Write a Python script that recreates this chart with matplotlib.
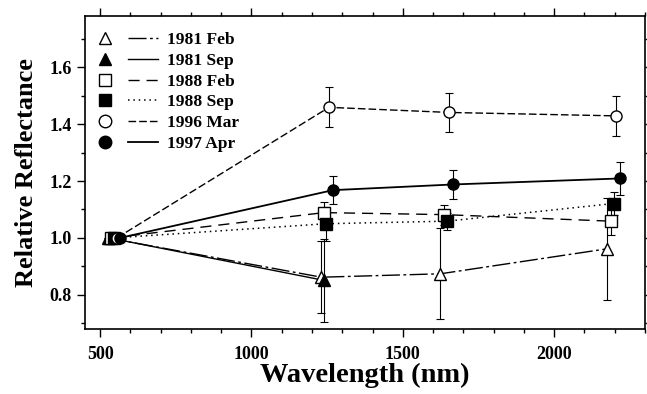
import matplotlib
matplotlib.use("Agg")
import matplotlib.pyplot as plt
from matplotlib.lines import Line2D
from matplotlib.legend_handler import HandlerTuple
from matplotlib.ticker import MultipleLocator, FormatStrFormatter

plt.rcParams['font.family'] = ['Liberation Serif', 'DejaVu Serif']
plt.rcParams['font.weight'] = 'bold'

labels = ["1981 Feb", "1981 Sep", "1988 Feb", "1988 Sep", "1996 Mar", "1997 Apr"]

x_81feb = [525, 1231, 1624, 2176]
y_81feb = [1.00, 0.862, 0.874, 0.962]
e_81feb = [0.0, 0.127, 0.160, 0.180]

x_81sep = [530, 1239]
y_81sep = [1.00, 0.851]
e_81sep = [0.0, 0.147]

x_88feb = [535, 1239, 1635, 2187]
y_88feb = [1.00, 1.089, 1.082, 1.059]
e_88feb = [0.0, 0.038, 0.035, 0.050]

x_88sep = [545, 1247, 1647, 2196]
y_88sep = [1.00, 1.050, 1.059, 1.121]
e_88sep = [0.0, 0.060, 0.030, 0.040]

x_96mar = [555, 1256, 1654, 2205]
y_96mar = [1.00, 1.459, 1.441, 1.429]
e_96mar = [0.0, 0.070, 0.070, 0.070]

x_97apr = [565, 1269, 1667, 2216]
y_97apr = [1.00, 1.168, 1.188, 1.209]
e_97apr = [0.0, 0.050, 0.050, 0.059]

xs = [x_81feb, x_81sep, x_88feb, x_88sep, x_96mar, x_97apr]
ys = [y_81feb, y_81sep, y_88feb, y_88sep, y_96mar, y_97apr]
es = [e_81feb, e_81sep, e_88feb, e_88sep, e_96mar, e_97apr]

markers = ['^', '^', 's', 's', 'o', 'o']
faces = ['white', 'black', 'white', 'black', 'white', 'black']
styles = [(0, (13, 2.5, 2, 2.5)), '-', (0, (8, 5)), (0, (1, 2.5)), (0, (5.5, 2.2)), '-']
widths = [1.0, 1.0, 1.0, 1.1, 1.0, 1.3]

W, H = 647, 394
fig = plt.figure(figsize=(W / 100, H / 100), dpi=100)
ax = fig.add_axes([85 / W, 1 - 329 / H, 560 / W, 313 / H])

handles = []
for x, y, e, m, fc, ls, lw in zip(xs, ys, es, markers, faces, styles, widths):
    ax.errorbar(x, y, yerr=e, fmt='none', ecolor='black', elinewidth=0.8,
                capsize=3, capthick=0.8, zorder=2)
    ax.plot(x, y, color='black', linestyle=ls, linewidth=lw, zorder=2)
    ax.plot(x, y, linestyle='none', marker=m, markersize=8, markerfacecolor=fc,
            markeredgecolor='black', markeredgewidth=1.0, zorder=3)
    hm = Line2D([], [], linestyle='none', marker=m, markersize=9,
                markerfacecolor=fc, markeredgecolor='black', markeredgewidth=1.0)
    hl = Line2D([], [], color='black', linestyle=ls, linewidth=lw)
    handles.append((hm, hl))

leg = ax.legend(handles, labels, handler_map={tuple: HandlerTuple(ndivide=None, pad=0.46)},
                loc='upper left', bbox_to_anchor=((90 - 85) / 560, (329 - 32) / 313),
                frameon=False, handlelength=3.9, handletextpad=0.55,
                labelspacing=0.265, borderaxespad=0.0, borderpad=0.0,
                prop={'family': 'Liberation Serif', 'weight': 'bold', 'size': 12.5})

ax.set_xlim(450, 2300)
ax.set_ylim(0.68, 1.78)
ax.xaxis.set_major_locator(MultipleLocator(500))
ax.xaxis.set_minor_locator(MultipleLocator(100))
ax.yaxis.set_major_locator(MultipleLocator(0.2))
ax.yaxis.set_minor_locator(MultipleLocator(0.1))
ax.yaxis.set_major_formatter(FormatStrFormatter('%.1f'))
ax.tick_params(which='both', direction='out', top=True, right=True, width=1.0)
ax.tick_params(which='major', length=6, labelsize=13)
ax.tick_params(which='minor', length=3)
ax.tick_params(axis='x', which='major', pad=6)
for t in ax.get_xticklabels() + ax.get_yticklabels():
    t.set_fontweight('bold')
for s in ax.spines.values():
    s.set_linewidth(1.2)

ax.set_xlabel("Wavelength (nm)", fontsize=20.5, fontweight='bold', labelpad=0)
ax.set_ylabel("Relative Reflectance", fontsize=19, fontweight='bold', labelpad=8)

fig.savefig("out.png", dpi=100)
